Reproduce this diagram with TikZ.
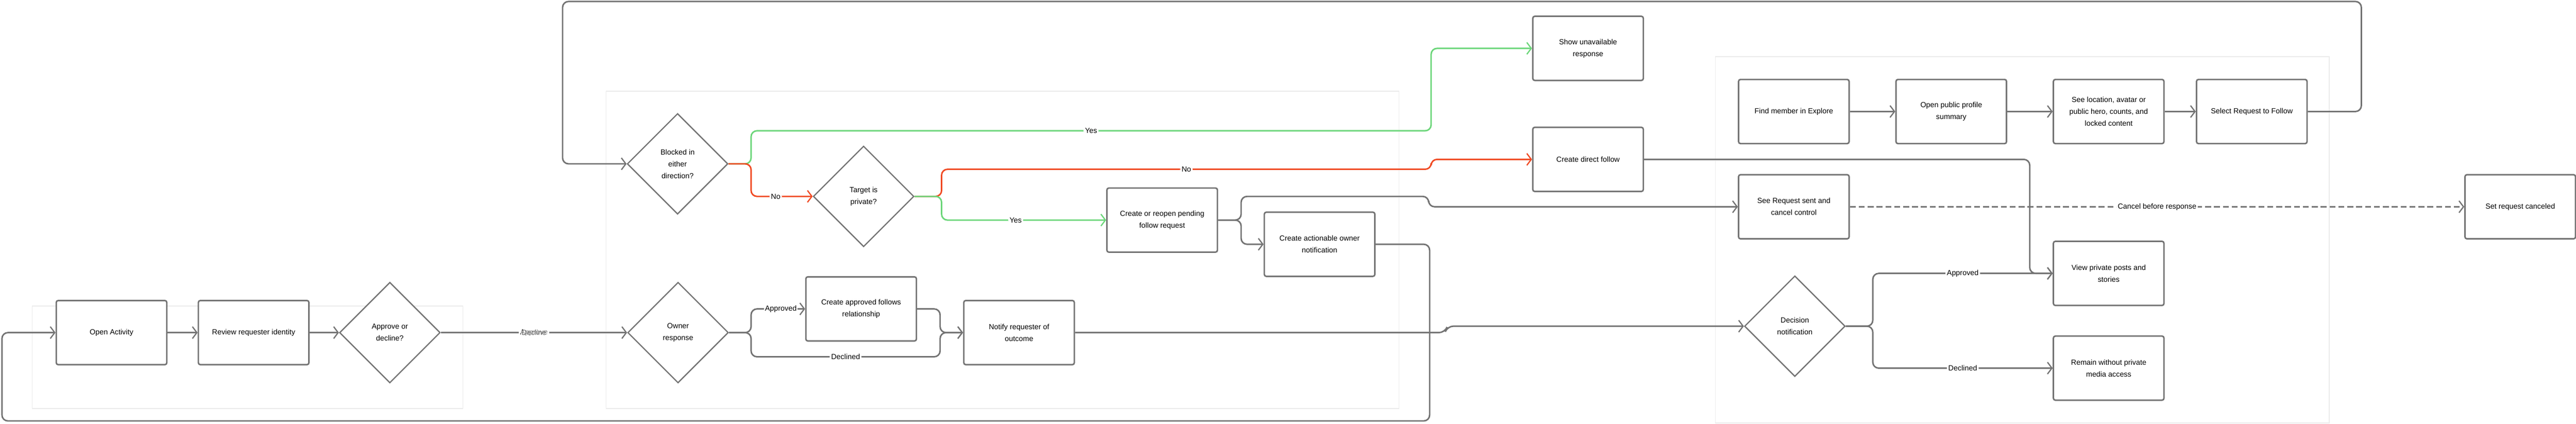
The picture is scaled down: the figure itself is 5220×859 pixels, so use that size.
\documentclass[tikz,border=0pt]{standalone}
\usepackage{fontspec}
\setmainfont{Liberation Sans}
\usetikzlibrary{arrows.meta,shapes.geometric}
\definecolor{ln}{HTML}{737373}
\definecolor{gr}{HTML}{6CD67A}
\definecolor{rd}{HTML}{F04A23}
\definecolor{pn}{HTML}{EBEBEB}
\begin{document}
\begin{tikzpicture}[x=1pt,y=-1pt,
  font=\fontsize{15}{24}\selectfont,
  stepbox/.style={draw=ln,line width=3pt,rounded corners=4pt,minimum width=224pt,minimum height=130pt,align=center,fill=white,inner sep=0pt},
  dec/.style={draw=ln,line width=2.5pt,diamond,minimum width=204pt,minimum height=204pt,inner sep=0pt,align=center,aspect=1,fill=white},
  panel/.style={draw=pn,line width=1.5pt},
  conn/.style={draw=ln,line width=3pt,rounded corners=12pt,-{Straight Barb[length=9pt,width=24pt,line width=2.5pt]}},
  lbl/.style={fill=white,inner sep=3pt,font=\fontsize{15}{18}\selectfont}]
\useasboundingbox (0,0) rectangle (5220,859);
% panels
\draw[panel] (65,620) rectangle (938,828);
\draw[panel] (1228,185) rectangle (2835,828);
\draw[panel] (3476,115) rectangle (4720,857);
% nodes
\node[stepbox] (open) at (226,674) {Open Activity};
\node[stepbox] (review) at (514,674) {Review requester identity};
\node[dec,minimum width=204pt] (appr) at (790,674) {Approve or\\decline?};
\node[dec] (blocked) at (1373,332) {Blocked in\\either\\direction?};
\node[dec] (target) at (1750,398) {Target is\\private?};
\node[dec] (owner) at (1374,674) {Owner\\response};
\node[stepbox] (pending) at (2355,446) {Create or reopen pending\\follow request};
\node[stepbox] (ownernot) at (2674,495) {Create actionable owner\\notification};
\node[stepbox] (approved) at (1745,626) {Create approved follows\\relationship};
\node[stepbox] (notify) at (2065,674) {Notify requester of\\outcome};
\node[stepbox] (unavail) at (3218,98) {Show unavailable\\response};
\node[stepbox] (direct) at (3218,323) {Create direct follow};
\node[stepbox] (find) at (3635,226) {Find member in Explore};
\node[stepbox] (profile) at (3954,226) {Open public profile\\summary};
\node[stepbox] (seeloc) at (4273,226) {See location, avatar or\\public hero, counts, and\\locked content};
\node[stepbox] (select) at (4563,226) {Select Request to Follow};
\node[stepbox] (sent) at (3635,419) {See Request sent and\\cancel control};
\node[stepbox] (canceled) at (5107,419) {Set request canceled};
\node[dec] (decision) at (3637,661) {Decision\\notification};
\node[stepbox] (viewpriv) at (4273,554) {View private posts and\\stories};
\node[stepbox] (remain) at (4273,746) {Remain without private\\media access};
% connectors
\draw[conn] (open) -- (review);
\draw[conn] (review) -- (appr);
\draw[conn] (appr) -- (owner) node[lbl,pos=0.5]{Approve} node[lbl,pos=0.5,opacity=0.6,text opacity=0.6]{Decline};
\draw[conn] (find) -- (profile);
\draw[conn] (profile) -- (seeloc);
\draw[conn] (seeloc) -- (select);
\draw[conn] (select.east) -- (4785,226) -- (4785,3) -- (1140,3) -- (1140,332) -- (blocked.west);
\draw[conn,draw=gr] (blocked.east) -- (1522,332) -- (1522,265) -- (2900,265) node[lbl,pos=0.5,text=black]{Yes} -- (2900,98) -- (unavail.west);
\draw[conn,draw=rd] (blocked.east) -- (1522,332) -- (1522,398) -- (target.west) node[lbl,pos=0.4,text=black]{No};
\draw[conn,draw=rd] (target.east) -- (1908,398) -- (1908,343) -- (2900,343) node[lbl,pos=0.5,text=black]{No} -- (2900,323) -- (direct.west);
\draw[conn,draw=gr] (target.east) -- (1908,398) -- (1908,446) -- (pending.west) node[lbl,pos=0.45,text=black]{Yes};
\draw[conn] (pending.east) -- (2515,446) -- (2515,398) -- (2895,398) -- (2895,419) -- (sent.west);
\draw[conn] (pending.east) -- (2515,446) -- (2515,495) -- (ownernot.west);
\draw[conn] (ownernot.east) -- (2897,495) -- (2897,853) -- (4,853) -- (4,674) -- (open.west);
\draw[conn] (owner.east) -- (1522,674) -- (1522,626) -- (approved.west) node[lbl,pos=0.55,inner sep=2pt]{Approved};
\draw[conn] (owner.east) -- (1522,674) -- (1522,723) -- (1905,723) node[lbl,pos=0.5]{Declined} -- (1905,674) -- (notify.west);
\draw[conn] (approved.east) -- (1905,626) -- (1905,674) -- (notify.west);
\draw[conn] (notify.east) -- (2928,674) -- (2933,661) -- (decision.west);
\draw[conn,dashed,dash pattern=on 12pt off 6pt] (sent.east) -- (canceled.west) node[lbl,pos=0.5]{Cancel before response};
\draw[conn] (direct.east) -- (4113,323) -- (4113,554) -- (viewpriv.west);
\draw[conn] (decision.east) -- (3795,661) -- (3795,554) -- (viewpriv.west) node[lbl,pos=0.5]{Approved};
\draw[conn] (decision.east) -- (3795,661) -- (3795,746) -- (remain.west) node[lbl,pos=0.5]{Declined};
\end{tikzpicture}
\end{document}
